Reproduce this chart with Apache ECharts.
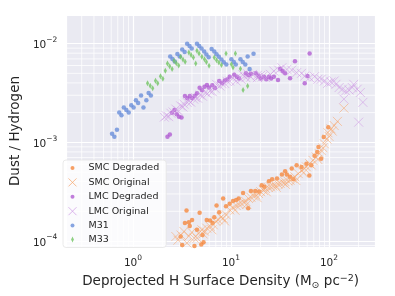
<!DOCTYPE html>
<html>
<head>
<meta charset="utf-8">
<script src="https://cdn.jsdelivr.net/npm/echarts@6/dist/echarts.min.js"></script>
<style>html,body{margin:0;padding:0;background:#fff}#c{width:395px;height:296px}</style>
</head>
<body>
<div id="c"></div>
<script>
// ---- data: [H surface density (Msun pc^-2), dust/hydrogen] ----
const smcDegraded = [[3.07,1.11e-4],[3.18,9.1e-5],[3.39,1.52e-4],[3.52,2.04e-4],[3.72,1.55e-4],[3.80,1.42e-4],[4.01,1.63e-4],[4.24,8.9e-5],[4.50,1.30e-4],[4.79,1.93e-4],[4.98,9.2e-5],[5.13,1.15e-4],[5.25,9.7e-5],[5.66,1.63e-4],[6.12,1.61e-4],[6.50,1.52e-4],[6.76,1.74e-4],[7.13,2.29e-4],[7.59,1.96e-4],[8.32,2.70e-4],[8.91,2.25e-4],[9.71,2.38e-4],[10.5,2.55e-4],[11.3,2.60e-4],[12.0,2.70e-4],[13.3,3.06e-4],[15.0,2.15e-4],[16.0,3.21e-4],[17.7,3.21e-4],[19.4,3.18e-4],[20.6,3.68e-4],[21.9,3.55e-4],[24.4,4.04e-4],[26.3,4.23e-4],[29.5,4.30e-4],[33.1,4.71e-4],[35.7,5.09e-4],[37.2,4.71e-4],[40.1,4.47e-4],[41.7,5.42e-4],[43.4,4.23e-4],[46.8,5.85e-4],[52.5,5.64e-4],[58.9,6.08e-4],[63.1,4.60e-4],[66.1,5.85e-4],[71.3,7.31e-4],[75.9,7.97e-4],[78.2,8.95e-4],[83.2,6.82e-4],[88.5,1.13e-3],[98.4,1.42e-3]];
const smcOriginal = [[2.74,1.11e-4],[2.88,1.02e-4],[3.09,1.15e-4],[3.31,1.25e-4],[3.55,9.55e-5],[3.72,1.12e-4],[3.98,1.23e-4],[4.22,1.07e-4],[4.52,1.07e-4],[4.68,1.20e-4],[5.05,1.30e-4],[5.2,1.18e-4],[5.37,1.26e-4],[5.66,1.35e-4],[6.12,1.41e-4],[6.4,1.30e-4],[6.61,1.46e-4],[7.00,1.59e-4],[7.41,1.64e-4],[7.94,1.74e-4],[8.32,1.70e-4],[8.6,1.60e-4],[8.97,1.84e-4],[9.71,2.07e-4],[10.5,2.18e-4],[11.0,2.05e-4],[11.3,2.29e-4],[12.0,2.36e-4],[12.7,2.41e-4],[13.5,2.47e-4],[14.2,2.51e-4],[14.5,2.35e-4],[15.1,2.70e-4],[16.0,2.77e-4],[17.0,2.86e-4],[17.9,2.93e-4],[18.5,2.75e-4],[19.1,3.03e-4],[20.1,3.16e-4],[21.4,3.26e-4],[22.5,3.41e-4],[23.0,3.15e-4],[24.0,3.49e-4],[25.3,3.55e-4],[26.9,3.61e-4],[28.4,3.68e-4],[29.0,3.50e-4],[30.2,3.78e-4],[31.8,3.83e-4],[33.9,3.92e-4],[35.7,3.98e-4],[36.0,3.75e-4],[38.0,4.06e-4],[40.1,4.13e-4],[42.7,4.30e-4],[45.0,4.47e-4],[46.0,4.10e-4],[48.6,4.82e-4],[52.5,5.21e-4],[55.0,4.90e-4],[56.2,5.42e-4],[58.9,5.64e-4],[63.5,6.08e-4],[66.0,5.90e-4],[68.7,6.56e-4],[74.1,7.10e-4],[77.0,6.70e-4],[80.0,7.66e-4],[83.2,8.28e-4],[87.0,8.8e-4],[89.7,9.66e-4],[95.5,1.08e-3],[97.7,1.25e-3],[100,1.15e-3],[105,1.37e-3],[108,1.30e-3],[113,1.48e-3],[122,1.63e-3],[142,2.22e-3]];
const lmcDegraded = [[2.25,1.14e-3],[2.38,1.20e-3],[2.50,1.99e-3],[2.65,2.12e-3],[2.80,1.93e-3],[2.95,1.82e-3],[3.13,1.78e-3],[3.39,2.95e-3],[3.59,2.80e-3],[3.80,2.95e-3],[4.03,2.80e-3],[4.27,2.95e-3],[4.50,3.14e-3],[4.79,3.57e-3],[5.07,3.37e-3],[5.37,3.66e-3],[5.69,3.81e-3],[5.96,3.59e-3],[6.46,3.78e-3],[6.87,3.56e-3],[7.59,4.18e-3],[8.13,3.96e-3],[8.65,4.22e-3],[9.18,4.32e-3],[9.71,4.63e-3],[10.8,4.83e-3],[11.5,4.63e-3],[12.1,4.42e-3],[14.2,5.00e-3],[15.1,4.77e-3],[16.0,4.96e-3],[17.9,5.00e-3],[19.1,4.69e-3],[20.1,4.42e-3],[21.7,4.63e-3],[22.9,4.35e-3],[24.4,4.63e-3],[25.7,4.42e-3],[27.4,4.63e-3],[30.2,4.28e-3],[31.8,5.57e-3],[33.7,5.27e-3],[35.7,5.00e-3],[40.1,4.45e-3],[45.0,6.64e-3],[56.6,3.96e-3],[60.3,4.69e-3],[63.5,7.93e-3]];
const lmcOriginal = [[2.09,1.80e-3],[2.19,1.86e-3],[2.32,1.82e-3],[2.44,1.97e-3],[2.57,2.03e-3],[2.74,2.17e-3],[2.88,2.10e-3],[3.07,2.34e-3],[3.24,2.28e-3],[3.31,2.44e-3],[3.57,2.54e-3],[3.72,2.63e-3],[3.89,2.55e-3],[4.17,2.74e-3],[4.34,2.84e-3],[4.57,2.80e-3],[4.86,3.02e-3],[5.13,2.93e-3],[5.46,3.20e-3],[5.75,3.11e-3],[6.12,3.32e-3],[6.46,3.26e-3],[6.87,3.53e-3],[7.13,3.87e-3],[7.71,3.72e-3],[8.13,3.92e-3],[8.65,3.94e-3],[9.12,4.15e-3],[9.71,4.18e-3],[10.5,4.45e-3],[11.3,4.18e-3],[11.8,4.66e-3],[12.7,4.35e-3],[13.2,4.83e-3],[14.2,4.52e-3],[14.8,4.94e-3],[16.0,4.59e-3],[16.6,4.88e-3],[18.6,4.52e-3],[18.6,4.77e-3],[20.1,4.77e-3],[20.9,4.61e-3],[22.5,4.52e-3],[25.3,4.88e-3],[27.4,5.27e-3],[30.7,5.39e-3],[33.1,5.70e-3],[37.2,5.48e-3],[41.7,5.39e-3],[46.8,5.08e-3],[52.5,5.00e-3],[56.6,4.69e-3],[63.5,4.52e-3],[71.3,4.63e-3],[77.1,4.35e-3],[83.2,4.35e-3],[89.7,4.18e-3],[97.1,3.96e-3],[105,4.08e-3],[113,4.18e-3],[118,3.87e-3],[127,3.59e-3],[137,3.45e-3],[142,2.74e-3],[148,3.32e-3],[160,3.39e-3],[173,3.59e-3],[179,3.87e-3],[194,3.45e-3],[209,3.20e-3],[222,2.54e-3],[201,1.60e-3]];
const m31 = [[0.612,1.22e-3],[0.646,1.14e-3],[0.687,1.34e-3],[0.724,2.00e-3],[0.764,1.88e-3],[0.807,2.26e-3],[0.857,2.12e-3],[0.906,2.00e-3],[0.962,2.37e-3],[1.016,2.26e-3],[1.072,2.67e-3],[1.13,2.51e-3],[1.21,2.98e-3],[1.28,2.26e-3],[1.37,2.67e-3],[1.445,3.16e-3],[1.524,2.98e-3],[2.40,7.40e-3],[2.53,6.98e-3],[2.67,6.59e-3],[2.84,7.84e-3],[3.00,7.40e-3],[3.18,8.71e-3],[3.37,8.22e-3],[3.57,9.95e-3],[3.78,9.44e-3],[3.98,8.91e-3],[4.50,9.95e-3],[4.75,9.44e-3],[5.01,8.91e-3],[5.33,8.32e-3],[5.62,7.75e-3],[5.93,7.28e-3],[6.35,8.81e-3],[6.76,8.32e-3],[7.13,7.81e-3],[7.53,7.35e-3],[8.00,6.90e-3],[8.45,6.49e-3],[8.97,6.15e-3],[10.1,6.95e-3],[10.7,6.52e-3],[11.2,6.15e-3],[12.5,6.95e-3],[13.2,6.52e-3],[14.0,6.15e-3],[14.8,7.40e-3],[15.5,5.54e-3],[17.0,7.88e-3]];
const m33 = [[1.41,3.96e-3],[1.50,3.74e-3],[1.59,3.53e-3],[1.70,4.20e-3],[1.79,3.96e-3],[1.91,4.68e-3],[2.02,4.40e-3],[2.14,5.30e-3],[2.25,6.30e-3],[2.37,5.91e-3],[2.51,5.54e-3],[2.63,6.70e-3],[2.77,6.34e-3],[2.93,6.01e-3],[3.07,7.35e-3],[3.24,6.90e-3],[3.41,6.55e-3],[3.72,8.12e-3],[3.92,7.69e-3],[4.14,7.23e-3],[4.37,6.30e-3],[4.50,8.45e-3],[4.73,7.93e-3],[5.05,7.35e-3],[5.37,6.95e-3],[5.62,6.52e-3],[5.98,5.97e-3],[6.76,7.23e-3],[7.13,6.80e-3],[7.53,6.44e-3],[8.00,6.08e-3],[8.91,7.93e-3],[10.1,6.19e-3],[10.5,5.74e-3],[11.1,7.93e-3],[12.5,5.57e-3],[13.3,3.39e-3],[14.8,3.72e-3]];

const seriesNames = ['SMC Degraded','SMC Original','LMC Degraded','LMC Original','M31','M33'];
const xRange = [0.209, 295];
const yRange = [8.7e-5, 0.0195];
const xMinorGrid = [0.3,0.4,0.5,0.6,0.7,0.8,0.9,2,3,4,5,6,7,8,9,20,30,40,50,60,70,80,90,200];
const yMinorGrid = [9e-5,2e-4,3e-4,4e-4,5e-4,6e-4,7e-4,8e-4,9e-4,2e-3,3e-3,4e-3,5e-3,6e-3,7e-3,8e-3,9e-3];

const FONT = 'DejaVu Sans';
const C = {smcD:'#f5883f', smcO:'#f7a467', lmcD:'#b25ed2', lmcO:'#cd98e4', m31:'#6a8ed9', m33:'#72c463'};
const crossSym = 'path://M0,0L10,10M10,0L0,10';
const diamondSym = 'path://M0,0L3,5L0,10L-3,5Z';
const dotIcon = 'path://M0,0M10,10M5,3A2,2,0,1,1,5,7A2,2,0,1,1,5,3Z';
const crossIcon = 'path://M0,0M10,10M1,1L9,9M9,1L1,9';
const diamondIcon = 'path://M0,0M10,10M5,2L6.4,5L5,8L3.6,5Z';

function powLabel(v){
  const e = Math.log10(v), r = Math.round(e);
  if (Math.abs(e - r) > 1e-6) return '';
  return '{b|10}{s|' + String(r).replace('-', '\u2212') + '}';
}
const labelRich = {
  b:{fontFamily:FONT, fontSize:10.5, color:'#262626', lineHeight:15, verticalAlign:'bottom'},
  s:{fontFamily:FONT, fontSize:7.5, color:'#262626', lineHeight:9, verticalAlign:'top'}
};

// minor grid lines drawn through the axis scales
function vGrid(params, api){
  const cs = params.coordSys;
  const x = api.coord([api.value(0), api.value(1)])[0];
  return {type:'line', silent:true,
    shape:{x1:x, y1:cs.y, x2:x, y2:cs.y + cs.height},
    style:{stroke:'#ffffff', lineWidth:0.75}};
}
function hGrid(params, api){
  const cs = params.coordSys;
  const y = api.coord([api.value(0), api.value(1)])[1];
  return {type:'line', silent:true,
    shape:{x1:cs.x, y1:y, x2:cs.x + cs.width, y2:y},
    style:{stroke:'#ffffff', lineWidth:0.75}};
}

const chart = echarts.init(document.getElementById('c'), null, {renderer:'canvas'});
chart.setOption({
  animation:false,
  textStyle:{fontFamily:FONT},
  grid:{left:60, right:20, top:15, bottom:47, show:true, backgroundColor:'#eaeaf2', borderWidth:0},
  xAxis:{
    type:'log', min:xRange[0], max:xRange[1], splitNumber:3,
    axisLine:{show:false}, axisTick:{show:false},
    splitLine:{show:true, lineStyle:{color:'#ffffff', width:1.2}},
    axisLabel:{formatter:powLabel, rich:labelRich, margin:7, showMinLabel:false, showMaxLabel:false},
    name:'Deprojected H Surface Density (M{sub|\u2299} pc{sup|\u22122})',
    nameLocation:'middle', nameGap:27,
    nameTextStyle:{fontFamily:FONT, fontSize:13.5, color:'#262626',
      rich:{sub:{fontFamily:FONT, fontSize:9.5, color:'#262626', verticalAlign:'bottom', lineHeight:14, padding:[0,0,-3,0]},
            sup:{fontFamily:FONT, fontSize:9.5, color:'#262626', verticalAlign:'top', lineHeight:10}}}
  },
  yAxis:{
    type:'log', min:yRange[0], max:yRange[1], splitNumber:2,
    axisLine:{show:false}, axisTick:{show:false},
    splitLine:{show:true, lineStyle:{color:'#ffffff', width:1.2}},
    axisLabel:{formatter:powLabel, rich:labelRich, margin:9, showMinLabel:false, showMaxLabel:false},
    name:'Dust / Hydrogen', nameLocation:'middle', nameGap:43, nameRotate:90,
    nameTextStyle:{fontFamily:FONT, fontSize:13.5, color:'#262626'}
  },
  legend:{
    orient:'vertical', left:63, top:160,
    padding:[3,7,3,4], itemWidth:20, itemHeight:10, itemGap:3.9,
    backgroundColor:'rgba(255,255,255,0.8)', borderColor:'#e4e4e4', borderWidth:0.8, borderRadius:3,
    textStyle:{fontFamily:FONT, fontSize:9.5, color:'#262626', lineHeight:10, padding:[0,0,0,1]},
    data:[
      {name:seriesNames[0], icon:dotIcon, itemStyle:{color:C.smcD, borderWidth:0}},
      {name:seriesNames[1], icon:crossIcon, itemStyle:{color:C.smcO, borderColor:C.smcO, borderWidth:1, opacity:0.7}},
      {name:seriesNames[2], icon:dotIcon, itemStyle:{color:C.lmcD, borderWidth:0}},
      {name:seriesNames[3], icon:crossIcon, itemStyle:{color:C.lmcO, borderColor:C.lmcO, borderWidth:1, opacity:0.7}},
      {name:seriesNames[4], icon:dotIcon, itemStyle:{color:C.m31, borderWidth:0}},
      {name:seriesNames[5], icon:diamondIcon, itemStyle:{color:C.m33, borderWidth:0}}
    ]
  },
  series:[
    {type:'custom', name:'xMinor', data:xMinorGrid.map(v=>[v, yRange[0]]), renderItem:vGrid, silent:true, z:1, clip:true},
    {type:'custom', name:'yMinor', data:yMinorGrid.map(v=>[xRange[0], v]), renderItem:hGrid, silent:true, z:1, clip:true},
    {type:'scatter', name:seriesNames[0], data:smcDegraded, symbol:'circle', symbolSize:4.5, z:3,
      itemStyle:{color:C.smcD}},
    {type:'scatter', name:seriesNames[1], data:smcOriginal, symbol:crossSym, symbolSize:9, z:3,
      itemStyle:{color:C.smcO, borderColor:C.smcO, borderWidth:1, opacity:0.55}},
    {type:'scatter', name:seriesNames[2], data:lmcDegraded, symbol:'circle', symbolSize:4.5, z:3,
      itemStyle:{color:C.lmcD}},
    {type:'scatter', name:seriesNames[3], data:lmcOriginal, symbol:crossSym, symbolSize:9, z:3,
      itemStyle:{color:C.lmcO, borderColor:C.lmcO, borderWidth:1, opacity:0.55}},
    {type:'scatter', name:seriesNames[4], data:m31, symbol:'circle', symbolSize:4.5, z:3,
      itemStyle:{color:C.m31}},
    {type:'scatter', name:seriesNames[5], data:m33, symbol:diamondSym, symbolSize:[3.2,6], z:3,
      itemStyle:{color:C.m33}}
  ]
});
</script>
</body>
</html>
